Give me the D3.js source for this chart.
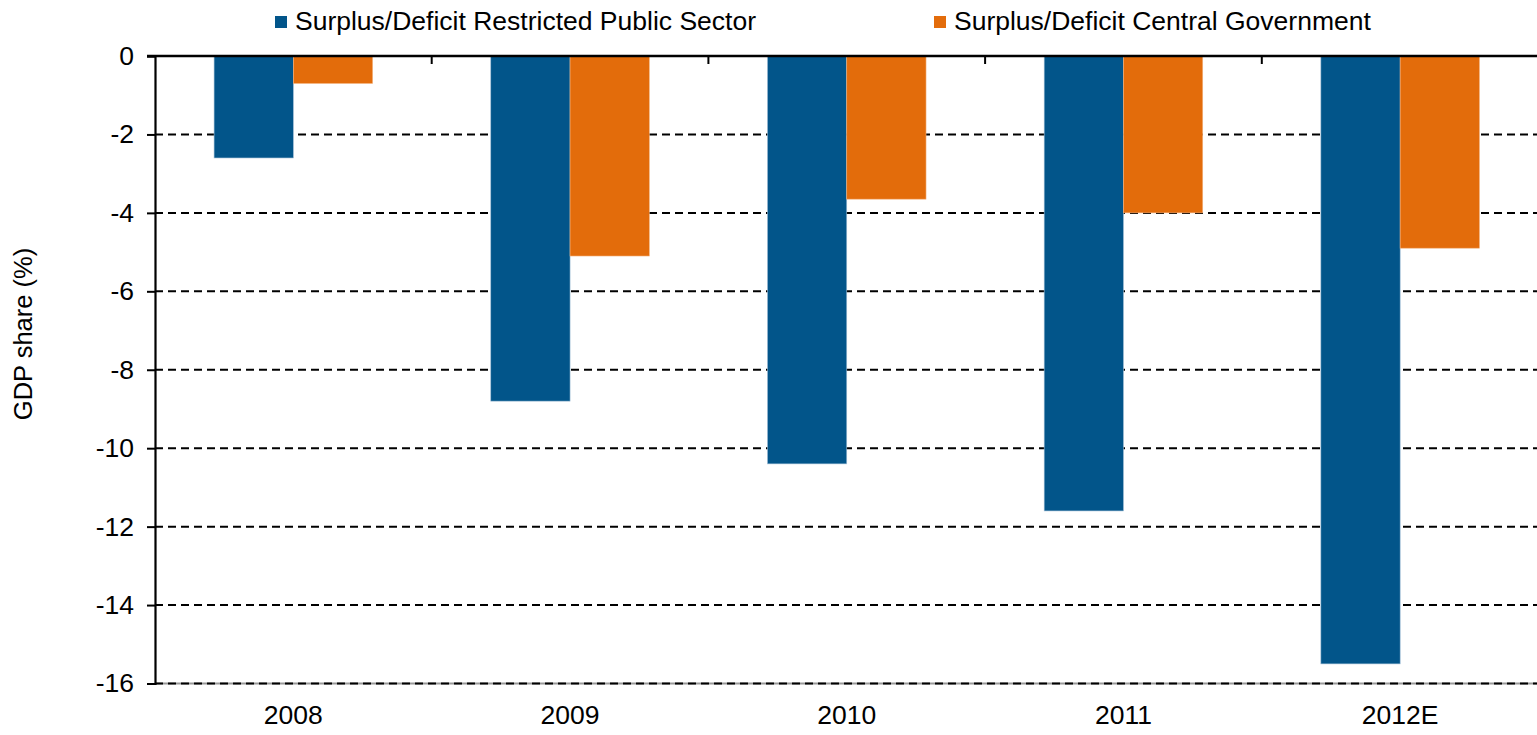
<!DOCTYPE html>
<html>
<head>
<meta charset="utf-8">
<script src="https://cdn.jsdelivr.net/npm/d3@7/dist/d3.min.js"></script>
<style>
  html, body { margin: 0; padding: 0; background: #fff; }
  svg { display: block; font-family: "Liberation Sans", Arial, sans-serif; }
</style>
</head>
<body>
<svg id="chart" width="1537" height="735"></svg>
<script>
// values
var categories   = ["2008", "2009", "2010", "2011", "2012E"];
var seriesNames  = ["Surplus/Deficit Restricted Public Sector", "Surplus/Deficit Central Government"];
var publicSector = [-2.6, -8.8, -10.4, -11.6, -15.5];
var centralGov   = [-0.7, -5.1, -3.65, -4.0, -4.9];
var yTicks       = [0, -2, -4, -6, -8, -10, -12, -14, -16];
var colors       = ["#02558a", "#e36c0b"];

(function () {
  "use strict";

  var svg = d3.select("#chart");
  var left = 155, right = 1538.5, top = 56, bottom = 683.5;
  var fs = 26.5;

  var rows = categories.map(function (c, i) {
    return { cat: c, vals: [publicSector[i], centralGov[i]] };
  });

  var x0 = d3.scaleBand().domain(categories).range([left, right])
    .paddingInner(0.427).paddingOuter(0.2135);
  var x1 = d3.scaleBand().domain([0, 1]).range([0, x0.bandwidth()]);
  var y = d3.scaleLinear().domain([0, -16]).range([top, bottom]);
  var half = x0.step() / 2;

  // dashed grid lines
  var gridVals = yTicks.filter(function (t) { return t < 0; });
  var grid = svg.append("g");
  grid.selectAll("line.g").data(gridVals.filter(function (t) { return t === -16; }))
    .enter().append("line")
    .attr("x1", left).attr("x2", right)
    .attr("y1", function (d) { return y(d); }).attr("y2", function (d) { return y(d); })
    .attr("stroke", "#999").attr("stroke-width", 2);
  grid.selectAll("line.d").data(gridVals)
    .enter().append("line")
    .attr("x1", left).attr("x2", right)
    .attr("y1", function (d) { return y(d); }).attr("y2", function (d) { return y(d); })
    .attr("stroke", "#000").attr("stroke-width", 2)
    .attr("stroke-dasharray", "8,5");

  // bars
  var groups = svg.append("g").selectAll("g").data(rows).enter().append("g")
    .attr("transform", function (d) { return "translate(" + x0(d.cat) + ",0)"; });
  groups.selectAll("rect").data(function (d) { return d.vals; }).enter().append("rect")
    .attr("x", function (d, i) { return x1(i); })
    .attr("width", x1.bandwidth())
    .attr("y", y(0))
    .attr("height", function (d) { return y(d) - y(0); })
    .attr("fill", function (d, i) { return colors[i]; })
    .attr("stroke", function (d, i) { return i === 0 ? "#9fbcd4" : "#f3b27e"; })
    .attr("stroke-width", 0.6);

  // y axis
  var yAxis = d3.axisLeft(y).tickValues(yTicks).tickSize(8).tickPadding(13)
    .tickFormat(function (d) { return d === 0 ? "0" : "-" + Math.abs(d); });
  var ya = svg.append("g").attr("transform", "translate(" + left + ",0)").call(yAxis);
  ya.select(".domain").attr("stroke", "#000").attr("stroke-width", 2.2);
  ya.selectAll(".tick line").attr("stroke", "#000").attr("stroke-width", 2);
  ya.selectAll("text").attr("font-size", fs).attr("fill", "#000")
    .attr("font-family", "Liberation Sans, Arial, sans-serif");

  // zero line with category separators
  svg.append("line").attr("x1", left - 8).attr("x2", right)
    .attr("y1", y(0)).attr("y2", y(0))
    .attr("stroke", "#000").attr("stroke-width", 2.4);
  svg.append("g").selectAll("line").data(categories.slice(1)).enter().append("line")
    .attr("x1", function (d) { return x0(d) + x0.bandwidth() / 2 - half; })
    .attr("x2", function (d) { return x0(d) + x0.bandwidth() / 2 - half; })
    .attr("y1", y(0)).attr("y2", y(0) + 8)
    .attr("stroke", "#000").attr("stroke-width", 2);

  // category labels
  svg.append("g").selectAll("text").data(categories).enter().append("text")
    .attr("x", function (d) { return x0(d) + x0.bandwidth() / 2; })
    .attr("y", 724)
    .attr("text-anchor", "middle").attr("font-size", fs).attr("fill", "#000")
    .text(function (d) { return d; });

  // y title
  svg.append("text")
    .attr("transform", "translate(32,334) rotate(-90)")
    .attr("text-anchor", "middle").attr("font-size", 25.5).attr("fill", "#000")
    .text("GDP share (%)");

  // legend
  var legendX = [275, 934];
  var leg = svg.append("g").selectAll("g").data(seriesNames).enter().append("g")
    .attr("transform", function (d, i) { return "translate(" + legendX[i] + ",0)"; });
  leg.append("rect").attr("x", 0).attr("y", 16).attr("width", 12).attr("height", 12)
    .attr("fill", function (d, i) { return colors[i]; });
  leg.append("text").attr("x", 20).attr("y", 30)
    .attr("font-size", fs).attr("fill", "#000")
    .text(function (d) { return d; });
}());
</script>
</body>
</html>
